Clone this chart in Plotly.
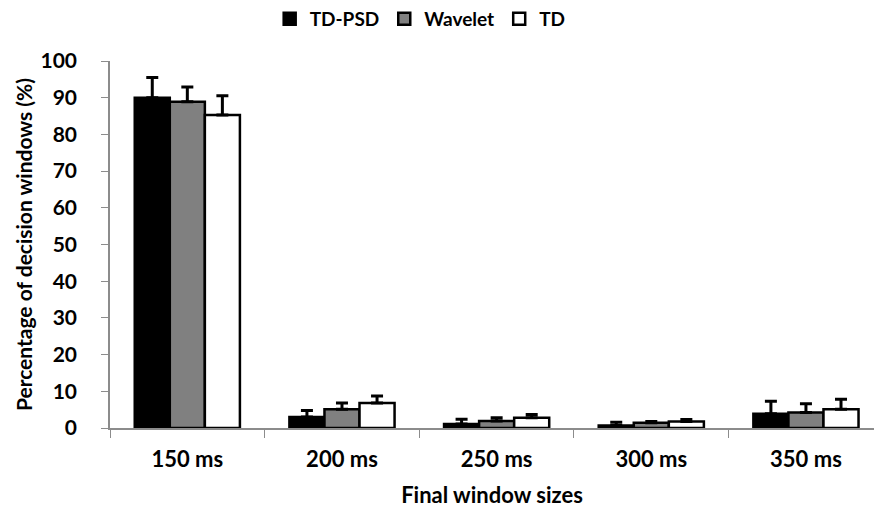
import plotly.graph_objects as go

categories = ["150 ms", "200 ms", "250 ms", "300 ms", "350 ms"]
td_psd = [90.0, 3.0, 1.1, 0.7, 3.9]
td_psd_err = [5.5, 1.8, 1.3, 0.9, 3.4]
wavelet = [88.9, 5.1, 1.9, 1.4, 4.2]
wavelet_err = [4.0, 1.7, 0.9, 0.4, 2.4]
td = [85.3, 6.8, 2.8, 1.8, 5.1]
td_err = [5.2, 1.9, 0.9, 0.5, 2.7]

FONT = "Lato"

series = [
    ("TD-PSD", td_psd, td_psd_err, "#000000"),
    ("Wavelet", wavelet, wavelet_err, "#808080"),
    ("TD", td, td_err, "#ffffff"),
]

fig = go.Figure()
for name, vals, errs, color in series:
    fig.add_trace(go.Bar(
        name=name, x=categories, y=vals,
        marker=dict(color=color, line=dict(color="#000000", width=2.5)),
        error_y=dict(type="data", array=errs, arrayminus=[0] * len(errs),
                     symmetric=False, color="#000000", thickness=3, width=6),
    ))

fig.update_layout(
    width=874, height=510,
    margin=dict(l=110, r=0, t=60, b=82),
    paper_bgcolor="white", plot_bgcolor="white",
    barmode="group", bargap=0.32, bargroupgap=0,
    font=dict(family=FONT, size=19, color="#000000"),
    showlegend=True,
    legend=dict(orientation="h", x=0.406, xanchor="center", y=1.113, yanchor="middle",
                font=dict(family=FONT, size=19, color="#000000", weight="bold"),
                itemwidth=30, traceorder="normal"),
    xaxis=dict(
        range=[-0.5, 4.44], showline=True, linecolor="#8c8c8c", linewidth=1.5,
        ticks="outside", tickson="boundaries", ticklen=8, tickcolor="#8c8c8c",
        tickfont=dict(family=FONT, size=22, weight="bold"), ticklabelstandoff=11,
        title=dict(text="Final window sizes", font=dict(family=FONT, size=22, weight="bold"), standoff=16),
        showgrid=False, zeroline=False,
    ),
    yaxis=dict(
        range=[0, 100], dtick=10, showline=True, linecolor="#8c8c8c", linewidth=1.5,
        ticks="outside", ticklen=7, tickcolor="#8c8c8c",
        tickfont=dict(family=FONT, size=21, weight="bold"), ticklabelstandoff=20,
        title=dict(text="Percentage of decision windows (%)", font=dict(family=FONT, size=21, weight="bold"), standoff=2),
        showgrid=False, zeroline=False,
    ),
)

fig.write_html("out.html")
